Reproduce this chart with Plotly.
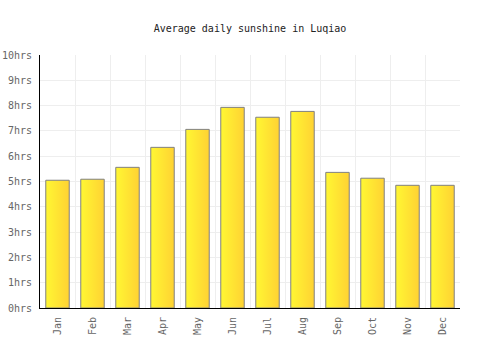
import plotly.graph_objects as go

months = ["Jan", "Feb", "Mar", "Apr", "May", "Jun", "Jul", "Aug", "Sep", "Oct", "Nov", "Dec"]
sunshine = [5.05, 5.09, 5.56, 6.35, 7.06, 7.93, 7.54, 7.77, 5.36, 5.13, 4.85, 4.85]
y_ticks = list(range(0, 11))
y_tick_labels = [f"{v}hrs" for v in y_ticks]

half = 0.335
fig = go.Figure()
for i, v in enumerate(sunshine):
    fig.add_trace(go.Scatter(
        x=[i - half, i - half, i + half, i + half, i - half],
        y=[0, v, v, 0, 0],
        mode="lines",
        fill="toself",
        fillgradient=dict(type="horizontal",
                          colorscale=[[0, "#FFF733"], [1, "#FFD233"]]),
        line=dict(color="#808080", width=1),
        hoverinfo="text",
        text=f"{months[i]}: {v}hrs",
        showlegend=False,
    ))

font = "DejaVu Sans Mono"
fig.update_layout(
    width=500, height=350,
    margin=dict(l=40, r=40, t=55, b=42),
    paper_bgcolor="white", plot_bgcolor="white",
    title=dict(text="Average daily sunshine in Luqiao", x=0.5, xanchor="center",
               y=1 - 28 / 350, yanchor="middle",
               font=dict(family=font, size=10, color="#222")),
    font=dict(family=font, size=10, color="#666"),
)
fig.update_xaxes(
    range=[-0.5, 11.5], tickmode="array", tickvals=list(range(12)), ticktext=months,
    tickangle=-90, showgrid=False, zeroline=False, showline=True,
    linecolor="black", linewidth=1, ticks="", ticklen=0, automargin=False,
    ticklabelstandoff=4,
    minor=dict(tickmode="array", tickvals=[i + 0.5 for i in range(12)],
               showgrid=True, gridcolor="#eeeeee", gridwidth=1, ticks=""),
    fixedrange=True,
)
fig.update_yaxes(
    range=[0, 10], tickmode="array", tickvals=y_ticks, ticktext=y_tick_labels,
    showgrid=True, gridcolor="#eeeeee", gridwidth=1, zeroline=False,
    showline=True, linecolor="black", linewidth=1, ticks="", ticklen=0,
    ticklabelstandoff=5, automargin=False, fixedrange=True,
)
fig.write_html("out.html")
